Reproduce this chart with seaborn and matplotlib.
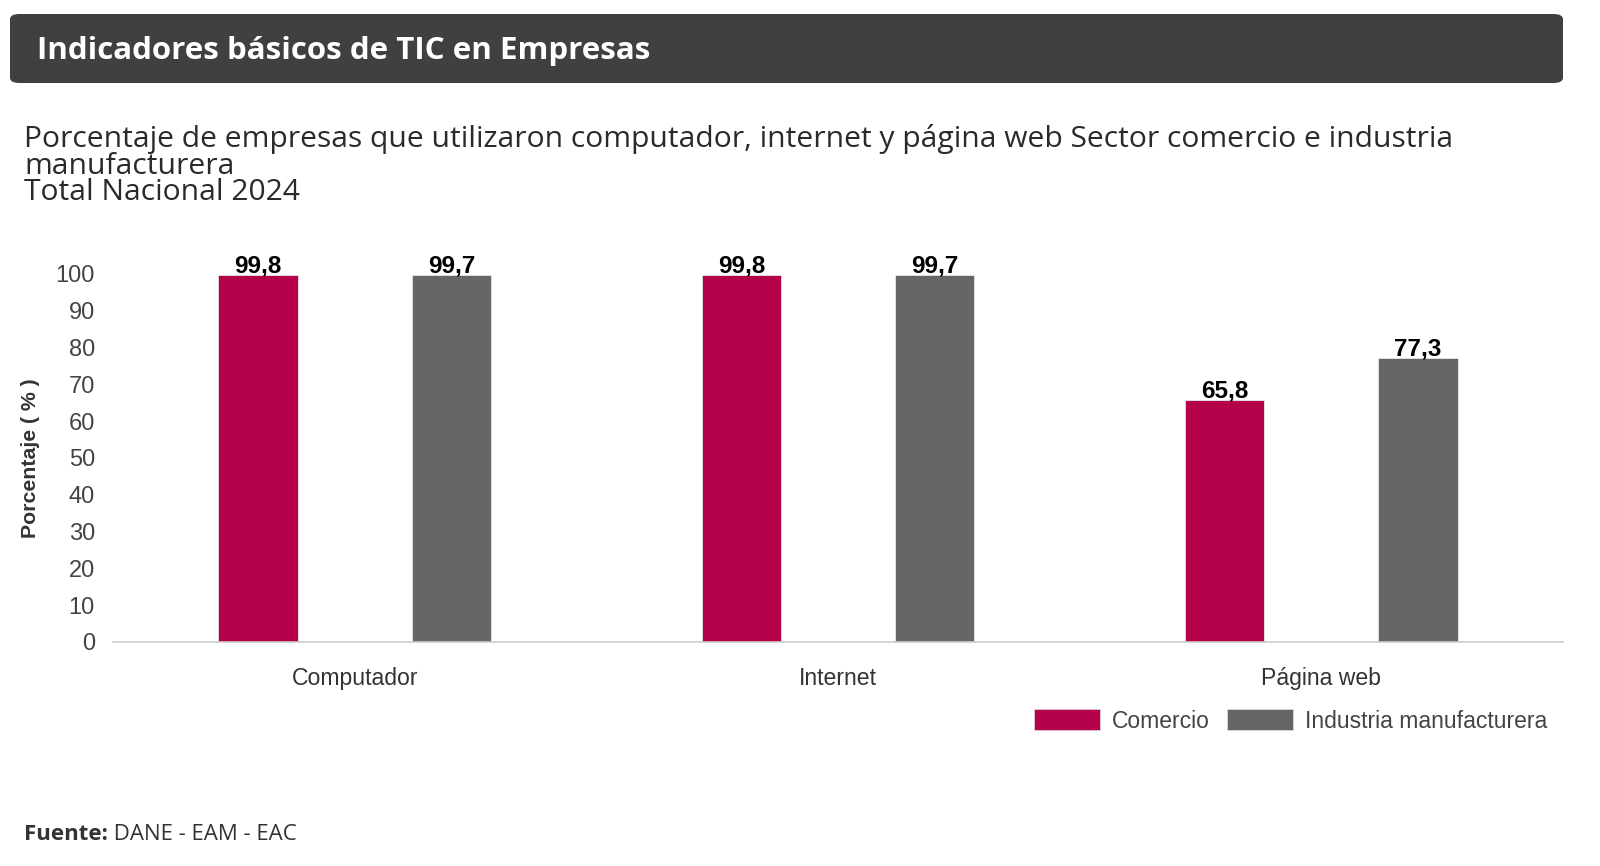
import pandas as pd
import seaborn as sns
import matplotlib.pyplot as plt
from matplotlib.patches import FancyBboxPatch, Patch

# chart data
categories = ['Computador', 'Internet', 'Página web']
comercio = [99.8, 99.8, 65.8]
industria = [99.7, 99.7, 77.3]
series_names = ['Comercio', 'Industria manufacturera']
colors = ['#b5004a', '#666666']
y_ticks = [0, 10, 20, 30, 40, 50, 60, 70, 80, 90, 100]

df = pd.DataFrame({
    'categoria': categories * 2,
    'serie': [series_names[0]] * 3 + [series_names[1]] * 3,
    'valor': comercio + industria,
})

sns.set_theme(style='white')
plt.rcParams['font.family'] = ['Liberation Sans', 'DejaVu Sans']

fig = plt.figure(figsize=(16, 8.66), dpi=100)
W, H = 1600, 866

# dark header band
header = FancyBboxPatch((10 / W, 1 - 83 / H), 1553 / W, 69 / H,
                        boxstyle='round,pad=0,rounding_size=0.006',
                        transform=fig.transFigure, facecolor='#404040',
                        edgecolor='none', zorder=0)
fig.patches.append(header)
fig.text(37 / W, 1 - 51 / H, 'Indicadores básicos de TIC en Empresas',
         family='Open Sans', weight='bold', fontsize=22.5, color='white',
         va='center', ha='left')

# subtitle lines
sub_lines = ['Porcentaje de empresas que utilizaron computador, internet y página web Sector comercio e industria',
             'manufacturera',
             'Total Nacional 2024']
for i, line in enumerate(sub_lines):
    fig.text(24 / W, 1 - (147 + 26.5 * i) / H, line, family='Open Sans',
             fontsize=21.6, color='#2a2a2a', va='baseline', ha='left')

ax = fig.add_axes([113 / W, 1 - 642 / H, 1450 / W, 368 / H])
sns.barplot(data=df, x='categoria', y='valor', hue='serie', order=categories,
            hue_order=series_names, palette=colors, saturation=1, width=0.8, gap=0.59,
            edgecolor='#e6e6e6', linewidth=0.6, ax=ax, legend=False)

ax.set_xlim(-0.5, 2.5)
ax.set_ylim(0, 100)
ax.set_yticks(y_ticks)
ax.set_yticklabels([str(t) for t in y_ticks])
for s in ['top', 'right', 'left']:
    ax.spines[s].set_visible(False)
ax.spines['bottom'].set_color('#cccccc')
ax.spines['bottom'].set_linewidth(1.2)
ax.tick_params(axis='y', length=0, pad=13, labelsize=17, labelcolor='#444444')
ax.tick_params(axis='x', length=0, pad=18, labelsize=16.6, labelcolor='#333333')
ax.set_xlabel('')
ax.set_ylabel('Porcentaje ( % )', fontsize=15.3, weight='bold', color='#333333')
ax.yaxis.set_label_coords(-0.050, 0.5)
ax.grid(False)

# value labels
for container in ax.containers:
    ax.bar_label(container, labels=[f'{v:.1f}'.replace('.', ',') for v in container.datavalues],
                 fontsize=17.5, weight='bold', color='black', padding=-2, clip_on=False)

# legend
handles = [Patch(facecolor=c, edgecolor='#e0e0e0', linewidth=0.5) for c in colors]
fig.legend(handles, series_names, loc='center right', bbox_to_anchor=(1547 / W, 1 - 721 / H),
           ncol=2, frameon=False, fontsize=16.5, labelcolor='#444444',
           handlelength=2.88, handleheight=1.0, handletextpad=0.52, columnspacing=0.74,
           borderaxespad=0, borderpad=0)

# source note
src = fig.text(24 / W, 1 - 840 / H, 'Fuente:', family='Open Sans', weight='bold',
               fontsize=16, color='#333333', va='baseline', ha='left')
plt.annotate(' DANE - EAM - EAC', xy=(1, 0), xycoords=src, va='bottom', ha='left',
             family='Open Sans', fontsize=16, color='#333333')

fig.savefig('out.png', dpi=100)
